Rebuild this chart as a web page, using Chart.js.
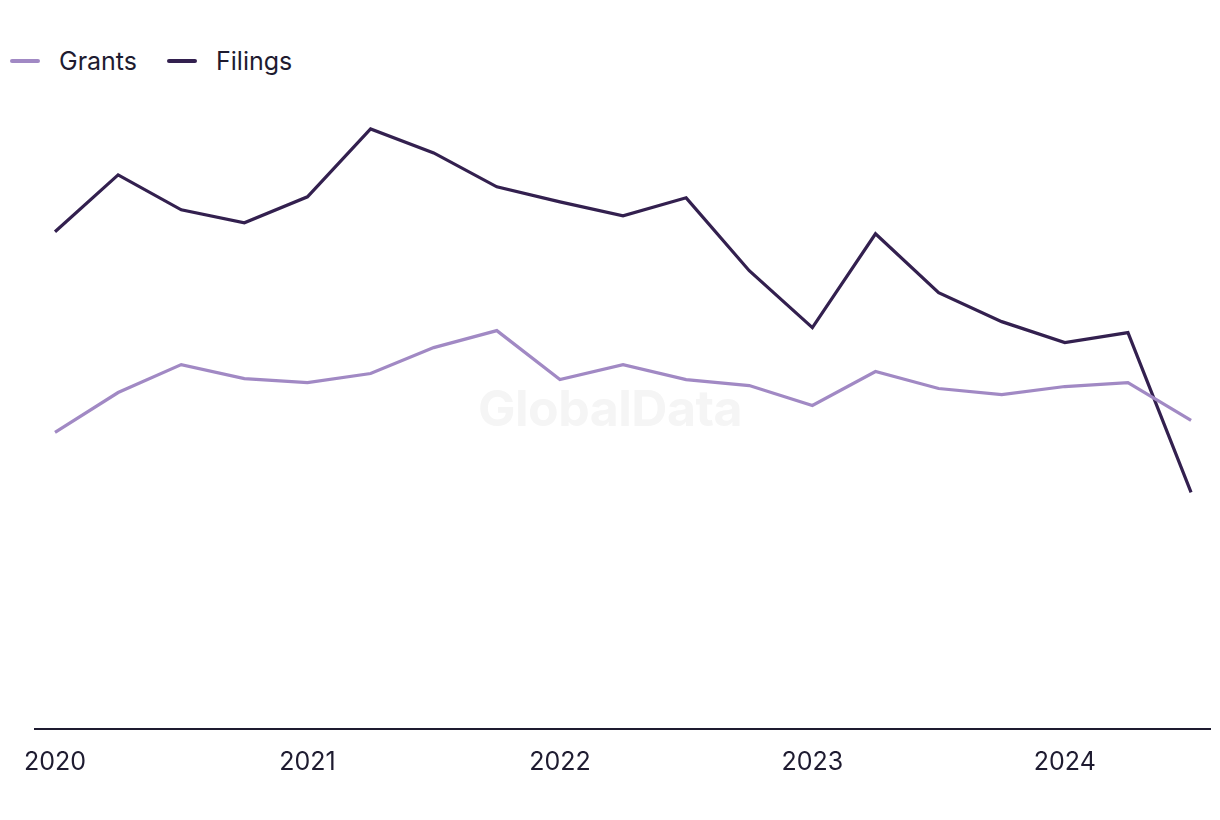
<!DOCTYPE html>
<html>
<head>
<meta charset="utf-8">
<script src="https://cdn.jsdelivr.net/npm/chart.js@4.4.1/dist/chart.umd.min.js"></script>
<style>
    html, body { margin: 0; padding: 0; background: #fff; }
    #wrap { position: relative; width: 1220px; height: 820px; font-family: Inter, "Liberation Sans", sans-serif; }
    #watermark {
        position: absolute; left: 0; width: 1220px; top: 378px; text-align: center;
        font-size: 50px; font-weight: 700; color: #f5f5f5; letter-spacing: -0.5px;
    }
    #legend { position: absolute; left: 10px; top: 46px; display: flex; font-size: 25px; color: #1e1b30; }
    .item { display: flex; align-items: center; margin-right: 30px; }
    .swatch { width: 30px; height: 4px; border-radius: 2px; margin-right: 19px; }
    canvas { position: absolute; left: 0; top: 0; }
</style>
</head>
<body>
<div id="wrap">
    <div id="watermark">GlobalData</div>
    <div id="legend"></div>
    <canvas id="chart" width="1220" height="820"></canvas>
</div>
<script>
// Quarterly, 2020 Q1 .. 2024 Q3
const quarters = ['2020 Q1', '2020 Q2', '2020 Q3', '2020 Q4',
    '2021 Q1', '2021 Q2', '2021 Q3', '2021 Q4',
    '2022 Q1', '2022 Q2', '2022 Q3', '2022 Q4',
    '2023 Q1', '2023 Q2', '2023 Q3', '2023 Q4',
    '2024 Q1', '2024 Q2', '2024 Q3'];
const grants = [297, 337, 365, 351, 347, 356, 382, 399, 350, 365, 350, 344, 324, 358, 341, 335, 343, 347, 309];
const filings = [498, 555, 520, 507, 533, 601, 577, 543, 528, 514, 532, 459, 402, 496, 437, 408, 387, 397, 237];
const yearTicks = ['2020', '2021', '2022', '2023', '2024'];

const series = [
    { label: 'Grants', values: grants, color: '#a189c4' },
    { label: 'Filings', values: filings, color: '#33204f' }
];

// Legend
const legend = document.getElementById('legend');
series.forEach(s => {
    const item = document.createElement('div');
    item.className = 'item';
    item.innerHTML = `<span class="swatch" style="background:${s.color}"></span><span>${s.label}</span>`;
    legend.appendChild(item);
});

const ctx = document.getElementById('chart').getContext('2d');

new Chart(ctx, {
    type: 'line',
    data: {
        datasets: series.map(s => ({
            label: s.label,
            data: s.values.map((v, i) => ({ x: i, y: v })),
            borderColor: s.color,
            borderWidth: 3.2,
            pointRadius: 0,
            tension: 0,
            fill: false
        }))
    },
    options: {
        responsive: false,
        animation: false,
        layout: { padding: { top: 90, left: 35, right: 10, bottom: 33 } },
        plugins: {
            legend: { display: false },
            tooltip: { enabled: false }
        },
        scales: {
            x: {
                type: 'linear',
                min: -0.317,
                max: 18.3,
                afterBuildTicks: scale => {
                    scale.ticks = yearTicks.map((t, i) => ({ value: i * 4 }));
                },
                grid: { display: false },
                border: { display: true, color: '#1e1b30', width: 2 },
                ticks: {
                    padding: 10,
                    maxRotation: 0,
                    autoSkip: false,
                    color: '#1e1b30',
                    font: { family: 'Inter, "Liberation Sans", sans-serif', size: 25 },
                    callback: v => yearTicks[v / 4]
                }
            },
            y: {
                display: false,
                min: 0,
                max: 640
            }
        }
    }
});
</script>
</body>
</html>
